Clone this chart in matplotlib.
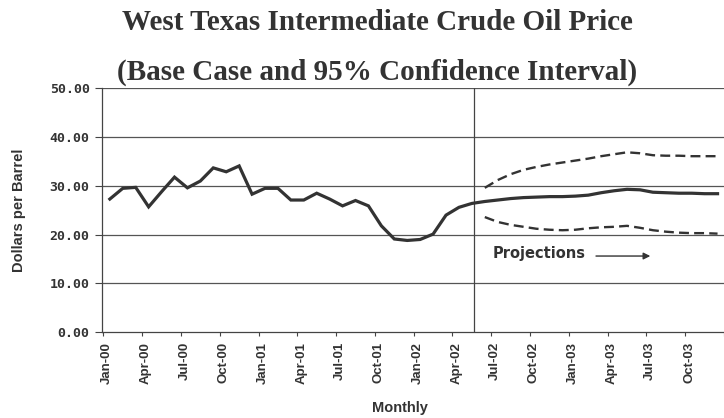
import matplotlib
matplotlib.use("Agg")
import matplotlib.pyplot as plt
import numpy as np

# ---- data ----
months = ["Jan-00","Feb-00","Mar-00","Apr-00","May-00","Jun-00","Jul-00","Aug-00","Sep-00","Oct-00","Nov-00","Dec-00",
          "Jan-01","Feb-01","Mar-01","Apr-01","May-01","Jun-01","Jul-01","Aug-01","Sep-01","Oct-01","Nov-01","Dec-01",
          "Jan-02","Feb-02","Mar-02","Apr-02","May-02","Jun-02","Jul-02","Aug-02","Sep-02","Oct-02","Nov-02","Dec-02",
          "Jan-03","Feb-03","Mar-03","Apr-03","May-03","Jun-03","Jul-03","Aug-03","Sep-03","Oct-03","Nov-03","Dec-03"]

historical = [27.3, 29.5, 29.7, 25.7, 28.8, 31.8, 29.6, 31.0, 33.7, 32.9, 34.1, 28.3,
              29.5, 29.5, 27.1, 27.1, 28.5, 27.3, 25.9, 27.0, 25.9, 21.8, 19.1, 18.8,
              19.0, 20.1, 24.0, 25.6, 26.4]

base_case = [26.8, 27.1, 27.4, 27.6, 27.7, 27.8, 27.8, 27.9, 28.1, 28.6, 29.0, 29.3,
             29.2, 28.7, 28.6, 28.5, 28.5, 28.4, 28.4]
upper_95 = [29.6, 31.2, 32.4, 33.3, 33.9, 34.4, 34.8, 35.2, 35.6, 36.1, 36.5, 36.9,
            36.7, 36.3, 36.2, 36.2, 36.1, 36.1, 36.1]
lower_95 = [23.6, 22.6, 22.0, 21.6, 21.2, 21.0, 20.9, 21.0, 21.3, 21.5, 21.6, 21.8,
            21.4, 20.9, 20.6, 20.4, 20.3, 20.3, 20.2]

tick_labels = months[::3]
y_ticks = [0, 10, 20, 30, 40, 50]

# ---- figure ----
fig = plt.figure(figsize=(7.24, 4.18), dpi=100)
ax = fig.add_axes([0.141, 0.2057, 0.859, 0.5826])

x_hist = np.arange(len(historical))
x_proj = np.arange(len(historical), len(historical) + len(base_case))
line_col = "#333333"

for y in y_ticks[1:]:
    ax.axhline(y, color="#555555", lw=0.9, zorder=1)

ax.axvline(x_hist[-1] + 0.2, color="#444444", lw=0.9, zorder=1)

ax.plot(np.r_[x_hist, x_proj], historical + base_case, color=line_col, lw=2.3,
        solid_joinstyle="miter", zorder=3)
ax.plot(x_proj, upper_95, color=line_col, lw=1.7, dashes=(4.2, 2.2), zorder=3)
ax.plot(x_proj, lower_95, color=line_col, lw=1.7, dashes=(4.2, 2.2), zorder=3)

ax.set_ylim(0, 50)
ax.set_xlim(-0.6, 46.9)

ax.set_yticks(y_ticks)
ax.set_yticklabels([f"{v:.2f}" for v in y_ticks], family="DejaVu Sans Mono",
                   fontweight="bold", fontsize=9.5, color="#333333")
ax.tick_params(axis="y", direction="out", length=5, width=0.8, color="#444444", pad=4)

ax.set_xticks(np.arange(0, len(months), 3) - 0.2)
ax.set_xticklabels(tick_labels, rotation=90, fontweight="bold", fontsize=9.5,
                   family="Liberation Sans", color="#333333")
ax.set_xticks(np.arange(-0.5, len(months), 3), minor=True)
ax.tick_params(axis="x", which="major", length=0, pad=7)
ax.tick_params(axis="x", which="minor", direction="out", length=3, width=0.8, color="#444444")

for s in ["top", "right"]:
    ax.spines[s].set_visible(False)
for s in ["left", "bottom"]:
    ax.spines[s].set_color("#444444")
    ax.spines[s].set_linewidth(0.9)

ax.set_ylabel("Dollars per Barrel", fontweight="bold", fontsize=10.5,
              family=["Liberation Sans Narrow", "Liberation Sans"], color="#333333")
ax.yaxis.set_label_coords(-0.122, 0.5)
ax.set_xlabel("Monthly", fontweight="bold", fontsize=10.5, family="Liberation Sans",
              color="#333333")
ax.xaxis.set_label_coords(0.479, -0.283)

ax.text(29.6, 16.2, "Projections", fontweight="bold", fontsize=10.5, family="DejaVu Sans",
        color="#333333", va="center", ha="left")
ax.annotate("", xy=(41.8, 15.6), xytext=(37.6, 15.6),
            arrowprops=dict(arrowstyle="-|>", color="#333333", lw=1.0, mutation_scale=10,
                            shrinkA=0, shrinkB=0))

fig.text(0.521, 0.945, "West Texas Intermediate Crude Oil Price", ha="center", va="center",
         family="Liberation Serif", fontweight="bold", fontsize=21, color="#333333")
fig.text(0.521, 0.828, "(Base Case and 95% Confidence Interval)", ha="center", va="center",
         family="Liberation Serif", fontweight="bold", fontsize=21, color="#333333")

fig.savefig("out.png", dpi=100)
